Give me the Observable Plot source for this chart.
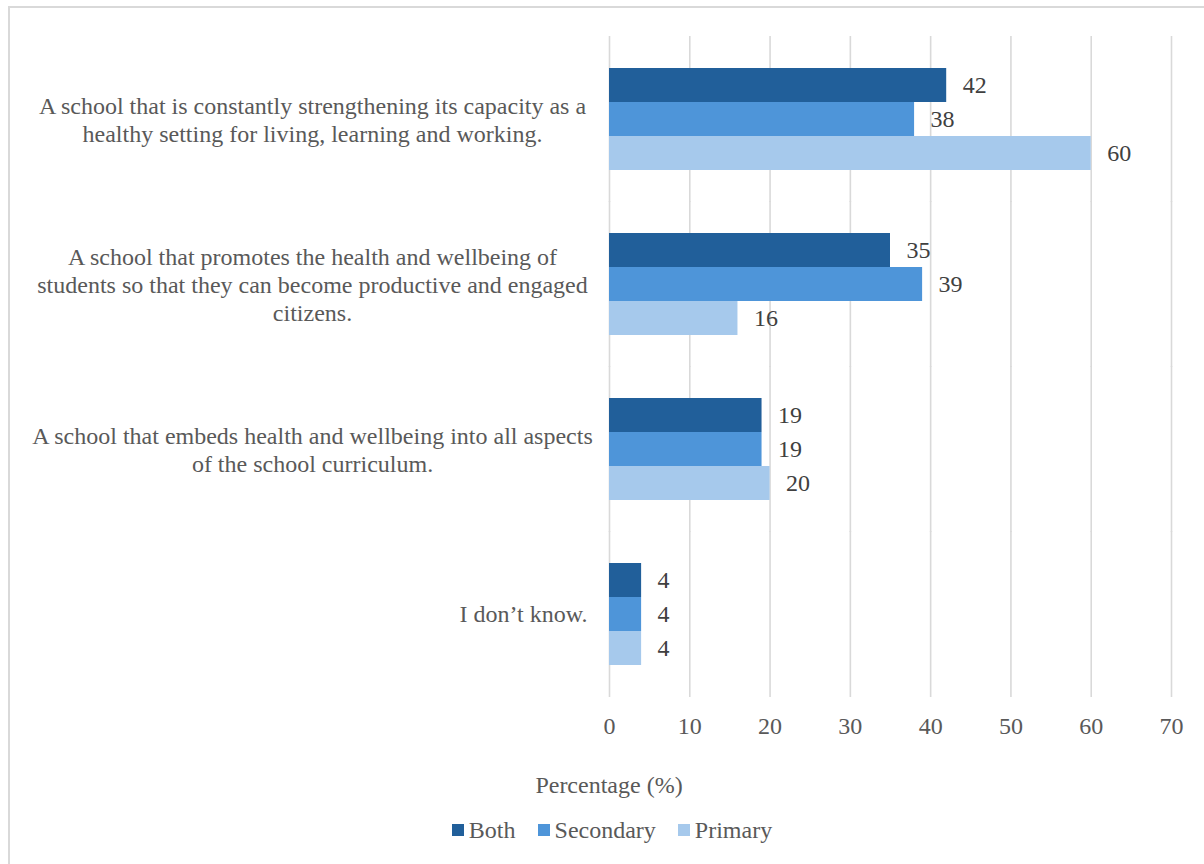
<!DOCTYPE html>
<html><head><meta charset="utf-8">
<script src="https://cdn.jsdelivr.net/npm/d3@7"></script>
<script src="https://cdn.jsdelivr.net/npm/@observablehq/plot@0.6"></script>
<style>
body{margin:0;width:1204px;height:864px;overflow:hidden;background:#fff;font-family:"Liberation Serif","Times New Roman",serif;color:#595959;position:relative}
#frame{position:absolute;left:8px;top:6px;width:1400px;height:1000px;border-left:2px solid #d9d9d9;border-top:2px solid #d9d9d9;box-sizing:border-box}
#chart{position:absolute;left:0;top:0}
#xtitle{position:absolute;top:770px;left:409px;width:400px;text-align:center;font-size:24px;line-height:30px}
#legend{position:absolute;top:815px;left:312px;width:600px;display:flex;justify-content:center;align-items:center;font-size:24px;line-height:30px}
.item{display:flex;align-items:center;margin:0 11px}
.sw{width:12px;height:12px;margin-right:5px}
</style></head>
<body>
<div id="frame"></div>
<div id="chart"></div>
<div id="xtitle">Percentage (%)</div>
<div id="legend"></div>
<script>
const categories = [
  "A school that is constantly strengthening its capacity as a\nhealthy setting for living, learning and working.",
  "A school that promotes the health and wellbeing of\nstudents so that they can become productive and engaged\ncitizens.",
  "A school that embeds health and wellbeing into all aspects\nof the school curriculum.",
  "I don\u2019t know."
];
const series = ["Both", "Secondary", "Primary"];
const bothValues = [42, 35, 19, 4];
const secondaryValues = [38, 39, 19, 4];
const primaryValues = [60, 16, 20, 4];
const colors = ["#215F9A", "#4E95D9", "#A6C9EC"];
const xTicks = [0, 10, 20, 30, 40, 50, 60, 70];
const xTitle = "Percentage (%)";

const valuesBySeries = [bothValues, secondaryValues, primaryValues];
const rows = [];
categories.forEach((c, i) => {
  series.forEach((s, j) => rows.push({category: c, series: s, value: valuesBySeries[j][i]}));
});
// Excel-style: wrapped labels are centred in their block; single-line labels hug the axis
const multiLine = categories.filter(c => c.includes("\n"));
const singleLine = categories.filter(c => !c.includes("\n"));

const chart = Plot.plot({
  width: 1204,
  height: 760,
  marginLeft: 609,
  marginRight: 33,
  marginTop: 35,
  marginBottom: 63,
  style: {fontFamily: "'Liberation Serif', 'Times New Roman', serif", fontSize: "24px", color: "#595959", background: "transparent"},
  x: {domain: [0, 70], axis: null},
  y: {domain: series, axis: null, padding: 0},
  fy: {domain: categories, paddingInner: 0.384, paddingOuter: 0.192, axis: null, label: null},
  color: {domain: series, range: colors},
  marks: [
    Plot.ruleX(xTicks, {x: d => d, stroke: "#d9d9d9", strokeWidth: 1.6, insetTop: -32, insetBottom: -32}),
    Plot.barX(rows, {x: "value", y: "series", fy: "category", fill: "series"}),
    Plot.text(rows, {x: "value", y: "series", fy: "category", text: d => String(d.value), dx: 16, textAnchor: "start", fill: "#404040", fontSize: 24}),
    Plot.axisFy({ticks: multiLine, anchor: "left", tickSize: 0, tickPadding: 0, textAnchor: "middle", dx: -297, lineHeight: 1.167, fill: "#595959", fontSize: 24, label: null}),
    Plot.axisFy({ticks: singleLine, anchor: "left", tickSize: 0, tickPadding: 22, textAnchor: "end", fill: "#595959", fontSize: 24, label: null}),
    Plot.axisX({ticks: xTicks, tickSize: 0, tickPadding: 51, tickFormat: d => String(d), fill: "#595959", fontSize: 24, label: null})
  ]
});
document.getElementById("chart").appendChild(chart);
document.getElementById("xtitle").textContent = xTitle;

const legend = document.getElementById("legend");
series.forEach((s, i) => {
  const it = document.createElement("div");
  it.className = "item";
  const sw = document.createElement("div");
  sw.className = "sw";
  sw.style.background = colors[i];
  const t = document.createElement("span");
  t.textContent = s;
  it.appendChild(sw); it.appendChild(t);
  legend.appendChild(it);
});
</script>
</body></html>
